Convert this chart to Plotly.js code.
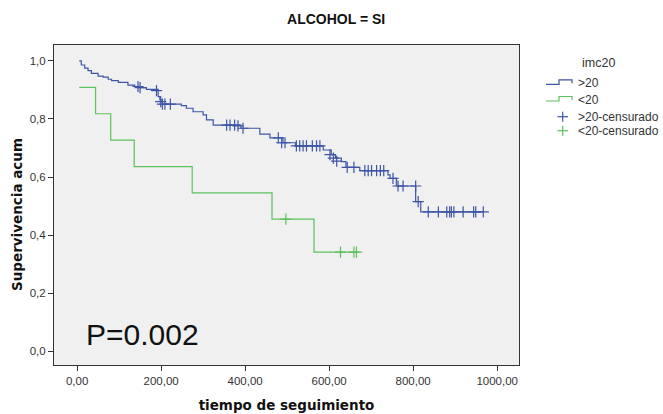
<!DOCTYPE html>
<html>
<head>
<meta charset="utf-8">
<script src="https://cdn.plot.ly/plotly-3.0.1.min.js"></script>
<style>html,body{margin:0;padding:0;background:#fff;}#chart{width:663px;height:414px;}</style>
</head>
<body>
<div id="chart"></div>
<script>
// Kaplan-Meier step points (time, cumulative survival)
var blueTime = [5, 10, 18, 26, 34, 50, 62, 74, 82, 98, 121, 137, 150, 165, 193, 197, 203, 248, 260, 276, 300, 308, 324, 390, 435, 459, 490, 520, 586, 605, 615, 629, 640, 673, 740, 745, 760, 806, 818, 967];
var blueSurv = [1.000, 0.986, 0.975, 0.967, 0.957, 0.948, 0.944, 0.937, 0.932, 0.926, 0.917, 0.912, 0.908, 0.902, 0.877, 0.866, 0.851, 0.846, 0.837, 0.825, 0.814, 0.797, 0.779, 0.768, 0.748, 0.735, 0.718, 0.707, 0.693, 0.677, 0.665, 0.653, 0.633, 0.622, 0.607, 0.595, 0.569, 0.515, 0.480, 0.480];
var greenTime = [5, 44, 80, 136, 274, 464, 564, 665];
var greenSurv = [0.909, 0.818, 0.727, 0.636, 0.545, 0.4545, 0.341, 0.341];

// censored observations
var blueCensTime = [145, 150, 189, 199, 203, 209, 222, 356, 364, 375, 383, 395, 479, 487, 495, 522, 530, 538, 546, 560, 570, 578, 602, 610, 618, 643, 659, 685, 693, 701, 713, 722, 730, 752, 764, 776, 806, 812, 836, 860, 880, 887, 891, 897, 919, 944, 949, 967];
var blueCensSurv = [0.912, 0.908, 0.898, 0.860, 0.851, 0.851, 0.851, 0.779, 0.779, 0.779, 0.776, 0.768, 0.735, 0.718, 0.718, 0.707, 0.707, 0.707, 0.707, 0.707, 0.707, 0.707, 0.677, 0.665, 0.655, 0.633, 0.633, 0.622, 0.622, 0.622, 0.622, 0.622, 0.622, 0.595, 0.569, 0.569, 0.569, 0.515, 0.480, 0.480, 0.480, 0.480, 0.480, 0.480, 0.480, 0.480, 0.480, 0.480];
var greenCensTime = [497, 627, 659, 665];
var greenCensSurv = [0.4545, 0.341, 0.341, 0.341];

var xTickVals = [0, 200, 400, 600, 800, 1000];
var xTickText = ['0,00', '200,00', '400,00', '600,00', '800,00', '1000,00'];
var yTickVals = [0, 0.2, 0.4, 0.6, 0.8, 1.0];
var yTickText = ['0,0', '0,2', '0,4', '0,6', '0,8', '1,0'];

var legendTitle = 'imc20';
var seriesNames = ['>20', '<20', '>20-censurado', '<20-censurado'];

var blueCol = '#3d55a6';
var greenCol = '#5cc25c';
var colors = [blueCol, greenCol, blueCol, greenCol];
var FONT = 'Liberation Sans, Arial, sans-serif';
var WIDE = 'DejaVu Sans, Verdana, sans-serif';

// plot area in pixels
var L = 54, R = 519, T = 45, B = 365;
function px(x) { return (x - L) / (R - L); }
function py(y) { return (B - y) / (B - T); }

var traces = [
  {x: blueTime, y: blueSurv, type: 'scatter', mode: 'lines', line: {shape: 'hv', color: blueCol, width: 1.2}, name: seriesNames[0]},
  {x: greenTime, y: greenSurv, type: 'scatter', mode: 'lines', line: {shape: 'hv', color: greenCol, width: 1.2}, name: seriesNames[1]},
  {x: blueCensTime, y: blueCensSurv, type: 'scatter', mode: 'markers', marker: {symbol: 'cross-thin', size: 8, line: {color: blueCol, width: 1.2}, color: blueCol}, name: seriesNames[2]},
  {x: greenCensTime, y: greenCensSurv, type: 'scatter', mode: 'markers', marker: {symbol: 'cross-thin', size: 8, line: {color: greenCol, width: 1.2}, color: greenCol}, name: seriesNames[3]}
];

// hand-drawn legend (step icons for curves, + for censored)
var rowY = [83.3, 100, 116.7, 130.7];
var shapes = [];
var annotations = [];
for (var i = 0; i < 4; i++) {
  var yy = rowY[i];
  if (i < 2) {
    var p = 'M' + px(546) + ',' + py(yy + 1) + ' L' + px(559) + ',' + py(yy + 1) + ' L' + px(559) + ',' + py(yy - 3.5) +
            ' L' + px(572) + ',' + py(yy - 3.5) + ' L' + px(572) + ',' + py(yy);
    shapes.push({type: 'path', xref: 'paper', yref: 'paper', path: p, line: {color: colors[i], width: 1.2}});
  } else {
    shapes.push({type: 'line', xref: 'paper', yref: 'paper', x0: px(557.5), x1: px(568), y0: py(yy), y1: py(yy), line: {color: colors[i], width: 1.2}});
    shapes.push({type: 'line', xref: 'paper', yref: 'paper', x0: px(562.7), x1: px(562.7), y0: py(yy - 5), y1: py(yy + 5), line: {color: colors[i], width: 1.2}});
  }
  annotations.push({text: seriesNames[i], xref: 'paper', yref: 'paper', x: px(577), y: py(yy), xanchor: 'left', yanchor: 'middle',
    showarrow: false, borderpad: 0, font: {family: FONT, size: 12, color: '#333'}});
}
annotations.push({text: legendTitle, xref: 'paper', yref: 'paper', x: px(598), y: py(62.5), xanchor: 'center', yanchor: 'middle',
  showarrow: false, borderpad: 0, font: {family: FONT, size: 12.5, color: '#333'}});
annotations.push({text: 'P=0.002', xref: 'paper', yref: 'paper', x: px(85), y: py(334), xanchor: 'left', yanchor: 'middle',
  showarrow: false, borderpad: 0, font: {family: FONT, size: 30, color: '#111'}});
annotations.push({text: '<b>Supervivencia acum</b>', xref: 'paper', yref: 'paper', x: px(17), y: py(215), xanchor: 'center', yanchor: 'middle',
  textangle: -90, showarrow: false, borderpad: 0, font: {family: WIDE, size: 13.5, color: '#111'}});

var layout = {
  width: 663, height: 414,
  margin: {l: L, r: 663 - R, t: T, b: 414 - B},
  paper_bgcolor: '#ffffff',
  plot_bgcolor: '#f0f0f0',
  font: {family: FONT, size: 11.5, color: '#333'},
  title: {text: '<b>ALCOHOL = SI</b>', font: {family: FONT, size: 14, color: '#111'}, x: 0.507, xanchor: 'center', y: 0.955, yanchor: 'middle'},
  xaxis: {
    range: [-55, 1052], tickvals: xTickVals, ticktext: xTickText,
    showgrid: false, zeroline: false, showline: true, mirror: true, linecolor: '#333', linewidth: 1,
    ticks: 'outside', ticklen: 5, tickcolor: '#333',
    tickfont: {family: FONT, size: 11.5, color: '#333'},
    title: {text: '<b>tiempo de seguimiento</b>', font: {family: WIDE, size: 13.5, color: '#111'}, standoff: 14}
  },
  yaxis: {
    range: [-0.048, 1.055], tickvals: yTickVals, ticktext: yTickText,
    showgrid: false, zeroline: false, showline: true, mirror: true, linecolor: '#333', linewidth: 1,
    ticks: 'outside', ticklen: 5, tickcolor: '#333',
    tickfont: {family: FONT, size: 11.5, color: '#333'}
  },
  showlegend: false,
  shapes: shapes,
  annotations: annotations
};

Plotly.newPlot('chart', traces, layout, {displayModeBar: false, staticPlot: true});
</script>
</body>
</html>
